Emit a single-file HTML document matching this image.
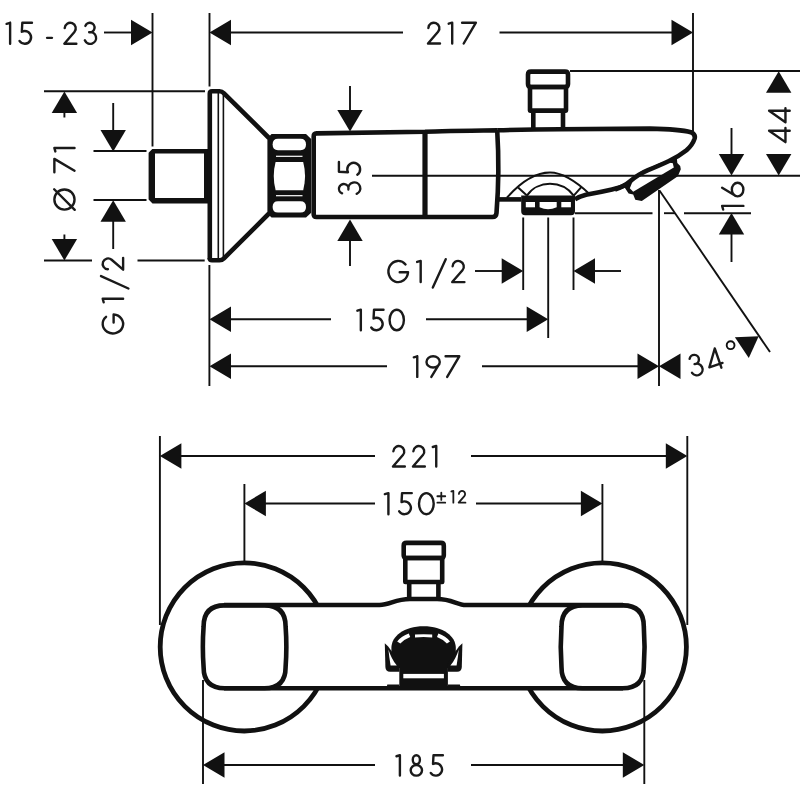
<!DOCTYPE html>
<html><head><meta charset="utf-8"><style>
html,body{margin:0;padding:0;background:#fff;width:800px;height:800px;overflow:hidden}
svg{display:block}
.ghost{fill:#000;fill-opacity:0;stroke:none!important}
.gl{fill:none;stroke:#1a1a1a;stroke-linecap:round;stroke-linejoin:round}
text{font-family:"Liberation Sans",sans-serif;fill:#1a1a1a;stroke:#fff;stroke-width:0.5px;vector-effect:non-scaling-stroke}
</style></head><body>
<svg width="800" height="800" viewBox="0 0 800 800" stroke="#111" stroke-linecap="butt" stroke-linejoin="round">
<text class="ghost" font-size="100" transform="matrix(0.31037 0 0 0.33521 3.017 44.665)">15 - 23</text>
<g class="gl" stroke-width="2.390"><g transform="translate(5.50 21.7) scale(1.0043)"><path d="M1.1,2.1 L4.6,1.1 M4.6,1.1 L4.6,21.9"/></g><g transform="translate(17.90 21.7) scale(1.0043)"><path d="M14.0,1.1 L4.4,1.1 L3.9,10.0 C4.9,9.5 5.8,9.3 6.8,9.3 A6.3,6.3 0 1 1 1.58,19.12"/></g><g transform="translate(46.00 21.7) scale(1.0043)"><path d="M1.1,16.1 L5.9,16.1"/></g><g transform="translate(63.10 21.7) scale(1.0043)"><path d="M1.60,6.41 A5.5,5.5 0 1 1 11.27,10.19 L1.20,21.90 L13.2,21.9"/></g><g transform="translate(83.40 21.7) scale(1.0043)"><path d="M1.98,4.19 A4.7,4.7 0 1 1 5.75,10.45 A5.84,5.84 0 1 1 1.42,18.48"/></g></g>
<line x1="104" y1="32.5" x2="132" y2="32.5" stroke-width="1.9"/>
<polygon points="152.50,32.50 131.00,45.20 131.00,19.80" fill="#111" stroke="none"/>
<line x1="152.5" y1="13" x2="152.5" y2="146.5" stroke-width="1.9"/>
<line x1="209.5" y1="13" x2="209.5" y2="86.5" stroke-width="1.9"/>
<polygon points="209.50,32.50 231.00,19.80 231.00,45.20" fill="#111" stroke="none"/>
<line x1="230" y1="32.5" x2="403" y2="32.5" stroke-width="1.9"/>
<text class="ghost" font-size="100" transform="matrix(0.32293 0 0 0.33286 425.185 44.800)">217</text>
<g class="gl" stroke-width="2.400"><g transform="translate(426.80 21.6) scale(1.0000)"><path d="M1.60,6.41 A5.5,5.5 0 1 1 11.27,10.19 L1.20,21.90 L13.2,21.9"/></g><g transform="translate(447.60 21.6) scale(1.0000)"><path d="M1.1,2.1 L4.6,1.1 M4.6,1.1 L4.6,21.9"/></g><g transform="translate(461.00 21.6) scale(1.0000)"><path d="M1.1,1.1 L14.9,1.1 L2.7,21.9"/></g></g>
<line x1="499.5" y1="32.5" x2="673" y2="32.5" stroke-width="1.9"/>
<polygon points="693.00,32.50 671.50,45.20 671.50,19.80" fill="#111" stroke="none"/>
<line x1="693" y1="13" x2="693" y2="131" stroke-width="1.9"/>
<line x1="44" y1="91.2" x2="205" y2="91.2" stroke-width="1.9"/>
<line x1="93.5" y1="151" x2="146.5" y2="151" stroke-width="1.9"/>
<line x1="93.5" y1="200" x2="146.5" y2="200" stroke-width="1.9"/>
<line x1="44" y1="260.5" x2="92" y2="260.5" stroke-width="1.9"/>
<line x1="137.5" y1="260.5" x2="204.7" y2="260.5" stroke-width="1.9"/>
<polygon points="64.40,91.50 77.10,113.00 51.70,113.00" fill="#111" stroke="none"/>
<line x1="64.4" y1="112" x2="64.4" y2="117.5" stroke-width="1.9"/>
<polygon points="64.40,260.50 51.70,239.00 77.10,239.00" fill="#111" stroke="none"/>
<line x1="64.4" y1="234.5" x2="64.4" y2="240" stroke-width="1.9"/>
<text class="ghost" font-size="100" transform="matrix(0 -0.31779 0.32568 0 76.349 212.871)">Ø 71</text>
<g class="gl" stroke-width="2.475" transform="matrix(0 -0.9696 0.9696 0 53.3 210.7)"><g transform="translate(0.00 0)"><path d="M1.10,11.50 A10.4,10.4 0 1 1 21.90,11.50 A10.4,10.4 0 1 1 1.10,11.50 Z M0.9,22.1 L22.1,0.9"/></g><g transform="translate(38.57 0)"><path d="M1.1,1.1 L14.9,1.1 L2.7,21.9"/></g><g transform="translate(60.03 0)"><path d="M1.1,2.1 L4.6,1.1 M4.6,1.1 L4.6,21.9"/></g></g>
<line x1="113.2" y1="103" x2="113.2" y2="131" stroke-width="1.9"/>
<polygon points="113.20,151.50 100.50,130.00 125.90,130.00" fill="#111" stroke="none"/>
<polygon points="113.20,200.30 125.90,221.80 100.50,221.80" fill="#111" stroke="none"/>
<line x1="113.2" y1="221" x2="113.2" y2="249" stroke-width="1.9"/>
<text class="ghost" font-size="100" transform="matrix(0 -0.37778 0.31081 0 124.189 336.289)">G1/2</text>
<g class="gl" stroke-width="2.442" transform="matrix(0 -0.9826 0.9826 0 101.6 334.5)"><g transform="translate(0.00 0)"><path d="M17.92,4.54 A9.65,10.4 0 1 0 20.38,12.23 L12.2,12.23"/></g><g transform="translate(31.75 0)"><path d="M1.1,2.1 L4.6,1.1 M4.6,1.1 L4.6,21.9"/></g><g transform="translate(45.90 0)"><path d="M13.6,-0.6 L0.9,27.3"/></g><g transform="translate(64.83 0)"><path d="M1.60,6.41 A5.5,5.5 0 1 1 11.27,10.19 L1.20,21.90 L13.2,21.9"/></g></g>
<path d="M152.3,149 L210,149 L210,203.5 L152.5,203.5 L148.6,199.6 L148.6,152.8 Z M155,153.6 L204,153.6 L204,198.1 L155,198.1 Z" fill="#111" fill-rule="evenodd" stroke="none"/>
<path d="M209.8,259.5 L209.8,93.6 Q209.8,91.3 212,91.3 L219.5,91.3 Q222,91.3 224,93.3 L269,138" stroke-width="4.6" fill="none" />
<path d="M209.8,258 Q209.8,260.3 212,260.3 L219.5,260.3 Q222,260.3 224,258.3 L269,213.5" stroke-width="4.6" fill="none" />
<line x1="218.3" y1="93" x2="218.3" y2="258.6" stroke-width="1.6"/>
<line x1="223.4" y1="94" x2="223.4" y2="257.6" stroke-width="1.6"/>
<path d="M271.5,134 L306,134 L311.2,139 L311.2,212.8 L306,217.6 L271.5,217.6 L267.4,213.5 L267.4,138.2 Z" fill="#111" stroke="none"/>
<path d="M278,138.8 L300.5,138.8 Q306,138.8 306,144.5 Q306,150.2 300.5,150.2 L278,150.2 Q272.6,150.2 272.6,144.5 Q272.6,138.8 278,138.8 Z" fill="#fff" stroke="none"/>
<rect x="276" y="155.7" width="26.5" height="1.2" fill="#fff" stroke="none"/>
<path d="M275.6,162 L303.2,162 Q306.9,176 303.2,190.2 L275.6,190.2 Q271.9,176 275.6,162 Z" fill="#fff" stroke="none"/>
<rect x="276" y="195.1" width="26.5" height="1.2" fill="#fff" stroke="none"/>
<path d="M278,201.2 L300.5,201.2 Q306,201.2 306,206.9 Q306,212.6 300.5,212.6 L278,212.6 Q272.6,212.6 272.6,206.9 Q272.6,201.2 278,201.2 Z" fill="#fff" stroke="none"/>
<path d="M497.2,130.2 Q440,131 425,131.7 L316.5,133.4 Q313.7,133.5 313.7,136.3 L313.7,214.2 Q313.7,217 316.5,217 L492.5,217 Q496.2,217 496.5,213 Q499.8,172 497.2,130.2" stroke-width="4.6" fill="none" />
<line x1="425" y1="132" x2="425" y2="217" stroke-width="5.2"/>
<path d="M498,199.4 L521.5,199.4" stroke-width="4.6" fill="none" />
<path d="M575,199.2 Q580,196.5 586,194.8 Q600,192.4 612,189.6 Q621,187.4 628,184" stroke-width="4.6" fill="none" />
<line x1="372" y1="175.8" x2="600" y2="175.8" stroke-width="1.9"/>
<path d="M624.5,187.2 L628.6,193.4 L633.2,194.6 L635.3,199.8 L641.8,201 L677.8,176.2 L680.8,169.2 L680.2,166 L677.3,163 L676.8,157.5 L660,163 L640,172 L628,181 Z" fill="#111" stroke="none"/>
<path d="M629.8,188.3 L633.2,191.8 L673.8,167.6 L672.8,163.2 L667.5,162.3 L650,168.6 L640,174 L633,180.5 Z" fill="#fff" stroke="none"/>
<path d="M497.2,130.2 Q530,129.5 560,129.2 L650,128.6 Q680,129.2 690.8,132.2 Q695.8,134.4 694.6,138.6 Q692.5,145 686.5,150.2 Q678.5,156.5 668.5,161.3 Q660,165.3 648,170.2 Q638,174.4 629.5,181.8 Q624,186.6 615,189.5" stroke-width="4.6" fill="none" />
<line x1="600" y1="175.8" x2="800" y2="175.8" stroke-width="1.9"/>
<line x1="350" y1="86" x2="350" y2="113" stroke-width="1.9"/>
<polygon points="350.00,131.60 337.30,110.10 362.70,110.10" fill="#111" stroke="none"/>
<polygon points="350.00,219.50 362.70,241.00 337.30,241.00" fill="#111" stroke="none"/>
<line x1="350" y1="239" x2="350" y2="266" stroke-width="1.9"/>
<text class="ghost" font-size="100" transform="matrix(0 -0.33204 0.33028 0 360.920 196.628)">35</text>
<g class="gl" stroke-width="2.354" transform="matrix(0 -1.0196 1.0196 0 337.8 195.3)"><g transform="translate(0.00 0)"><path d="M1.98,4.19 A4.7,4.7 0 1 1 5.75,10.45 A5.84,5.84 0 1 1 1.42,18.48"/></g><g transform="translate(18.68 0)"><path d="M14.0,1.1 L4.4,1.1 L3.9,10.0 C4.9,9.5 5.8,9.3 6.8,9.3 A6.3,6.3 0 1 1 1.58,19.12"/></g></g>
<path d="M533.3,129 L533.3,110.6 M563,129 L563,110.6" stroke-width="4.6" fill="none" />
<path d="M530,110.6 L566,110.6 L566,87 L530,87 Z" stroke-width="4.6" fill="none" />
<path d="M531,71.6 L565,71.6 Q568,71.6 568,74.6 L568,84 Q568,87 565,87 L531,87 Q528,87 528,84 L528,74.6 Q528,71.6 531,71.6 Z" stroke-width="4.6" fill="none" />
<line x1="570" y1="71" x2="800" y2="71" stroke-width="1.9"/>
<polygon points="778.70,71.20 791.40,92.70 766.00,92.70" fill="#111" stroke="none"/>
<text class="ghost" font-size="100" transform="matrix(0 -0.34670 0.33088 0 791.081 144.193)">44</text>
<g class="gl" stroke-width="2.421" transform="matrix(0 -0.9913 0.9913 0 768 143.5)"><g transform="translate(0.30 0)"><path d="M12.6,21.9 L12.6,1.1 L1.1,17.6 L15.3,17.6"/></g><g transform="translate(20.38 0)"><path d="M12.6,21.9 L12.6,1.1 L1.1,17.6 L15.3,17.6"/></g></g>
<polygon points="778.70,175.60 766.00,154.10 791.40,154.10" fill="#111" stroke="none"/>
<line x1="731.5" y1="128" x2="731.5" y2="155" stroke-width="1.9"/>
<polygon points="731.50,175.60 718.80,154.10 744.20,154.10" fill="#111" stroke="none"/>
<text class="ghost" font-size="100" transform="matrix(0 -0.29848 0.32746 0 743.923 214.138)">16</text>
<g class="gl" stroke-width="2.349" transform="matrix(0 -1.0217 1.0217 0 721 211)"><g transform="translate(0.39 0)"><path d="M1.1,2.1 L4.6,1.1 M4.6,1.1 L4.6,21.9"/></g><g transform="translate(13.21 0)"><g transform="rotate(180 7.8 11.5)"><path d="M1.10,6.75 A6.7,5.65 0 1 1 14.50,6.75 A6.7,5.65 0 1 1 1.10,6.75 Z M14.17,8.50 L6.0,21.9"/></g></g></g>
<polygon points="731.50,213.00 744.20,234.50 718.80,234.50" fill="#111" stroke="none"/>
<line x1="731.5" y1="234" x2="731.5" y2="262" stroke-width="1.9"/>
<line x1="575" y1="213.2" x2="652.5" y2="213.2" stroke-width="1.9"/>
<line x1="664" y1="213.2" x2="675" y2="213.2" stroke-width="1.9"/>
<line x1="684" y1="213.2" x2="751" y2="213.2" stroke-width="1.9"/>
<path d="M506.9,197.75 C519,184 533,172.5 550,172.5 C564,172.5 580,185 590,194.4" stroke-width="2.0" fill="none" />
<path d="M526.9,195.6 C532,188 541,183.75 550,183.75 C559,183.75 568,188 573.75,195.6" stroke-width="2.0" fill="none" />
<line x1="518.1" y1="187.5" x2="526.9" y2="195.6" stroke-width="2.0"/>
<line x1="581.3" y1="187.2" x2="573.75" y2="195.6" stroke-width="2.0"/>
<path d="M521.2,195.5 L575,195.5 L575,211 Q575,215.3 571,215.3 L525.2,215.3 Q521.2,215.3 521.2,211 Z" fill="#111" stroke="none"/>
<rect x="525.8" y="202" width="9.2" height="5.3" fill="#fff" stroke="none"/>
<path d="M539.6,202 L556.7,202 L556.7,207.3 Q548,211 539.6,207.3 Z" fill="#fff" stroke="none"/>
<rect x="561.3" y="202" width="9.6" height="5.3" fill="#fff" stroke="none"/>
<line x1="523.2" y1="217.5" x2="523.2" y2="290" stroke-width="1.9"/>
<line x1="548.2" y1="217.5" x2="548.2" y2="338" stroke-width="1.9"/>
<line x1="573.5" y1="217.5" x2="573.5" y2="290" stroke-width="1.9"/>
<text class="ghost" font-size="100" transform="matrix(0.38551 0 0 0.33649 383.972 284.164)">G1/2</text>
<g class="gl" stroke-width="2.359"><g transform="translate(387.30 259.8) scale(1.0174)"><path d="M17.92,4.54 A9.65,10.4 0 1 0 20.38,12.23 L12.2,12.23"/></g><g transform="translate(416.00 259.8) scale(1.0174)"><path d="M1.1,2.1 L4.6,1.1 M4.6,1.1 L4.6,21.9"/></g><g transform="translate(431.90 259.8) scale(1.0174)"><path d="M13.6,-0.6 L0.9,27.3"/></g><g transform="translate(451.00 259.8) scale(1.0174)"><path d="M1.60,6.41 A5.5,5.5 0 1 1 11.27,10.19 L1.20,21.90 L13.2,21.9"/></g></g>
<line x1="475" y1="271" x2="503" y2="271" stroke-width="1.9"/>
<polygon points="523.20,271.00 501.70,283.70 501.70,258.30" fill="#111" stroke="none"/>
<polygon points="573.50,271.00 595.00,258.30 595.00,283.70" fill="#111" stroke="none"/>
<line x1="593" y1="271" x2="621" y2="271" stroke-width="1.9"/>
<line x1="209.4" y1="265" x2="209.4" y2="386" stroke-width="1.9"/>
<polygon points="209.50,319.30 231.00,306.60 231.00,332.00" fill="#111" stroke="none"/>
<line x1="230" y1="319.3" x2="331" y2="319.3" stroke-width="1.9"/>
<text class="ghost" font-size="100" transform="matrix(0.31032 0 0 0.32113 355.017 331.079)">150</text>
<g class="gl" stroke-width="2.432"><g transform="translate(356.30 308.6) scale(0.9870)"><path d="M1.1,2.1 L4.6,1.1 M4.6,1.1 L4.6,21.9"/></g><g transform="translate(369.70 308.6) scale(0.9870)"><path d="M14.0,1.1 L4.4,1.1 L3.9,10.0 C4.9,9.5 5.8,9.3 6.8,9.3 A6.3,6.3 0 1 1 1.58,19.12"/></g><g transform="translate(388.50 308.6) scale(0.9870)"><path d="M1.10,11.50 A7.25,10.4 0 1 1 15.60,11.50 A7.25,10.4 0 1 1 1.10,11.50 Z"/></g></g>
<line x1="426" y1="319.3" x2="528" y2="319.3" stroke-width="1.9"/>
<polygon points="548.20,319.30 526.70,332.00 526.70,306.60" fill="#111" stroke="none"/>
<polygon points="209.50,366.30 231.00,353.60 231.00,379.00" fill="#111" stroke="none"/>
<line x1="230" y1="366.3" x2="387" y2="366.3" stroke-width="1.9"/>
<text class="ghost" font-size="100" transform="matrix(0.31948 0 0 0.32676 409.244 377.673)">197</text>
<g class="gl" stroke-width="2.421"><g transform="translate(412.70 355.2) scale(0.9913)"><path d="M1.1,2.1 L4.6,1.1 M4.6,1.1 L4.6,21.9"/></g><g transform="translate(425.40 355.2) scale(0.9913)"><path d="M1.10,6.75 A6.7,5.65 0 1 1 14.50,6.75 A6.7,5.65 0 1 1 1.10,6.75 Z M14.17,8.50 L6.0,21.9"/></g><g transform="translate(444.50 355.2) scale(0.9913)"><path d="M1.1,1.1 L14.9,1.1 L2.7,21.9"/></g></g>
<line x1="482" y1="366.3" x2="639" y2="366.3" stroke-width="1.9"/>
<polygon points="659.00,366.30 637.50,379.00 637.50,353.60" fill="#111" stroke="none"/>
<polygon points="659.00,366.30 680.50,353.60 680.50,379.00" fill="#111" stroke="none"/>
<line x1="659" y1="190" x2="659" y2="386" stroke-width="1.9"/>
<line x1="659.5" y1="190.5" x2="770" y2="352" stroke-width="1.9"/>
<polygon points="758.7,336.2 734.9,337.3 748.8,358.1" fill="#111" stroke="none"/>
<text class="ghost" font-size="100" transform="translate(696 364.9) rotate(-12) scale(0.29865 0.32113) translate(-27.5 34.5)">3</text>
<g class="gl" stroke-width="2.421" transform="translate(696 364.9) rotate(-12) scale(0.9913) translate(-7.00 -11.5)"><path d="M1.98,4.19 A4.7,4.7 0 1 1 5.75,10.45 A5.84,5.84 0 1 1 1.42,18.48"/></g>
<text class="ghost" font-size="100" transform="translate(716.5 357) rotate(-19) scale(0.30772 0.33088) translate(-27.5 35.0)">4</text>
<g class="gl" stroke-width="2.453" transform="translate(714.0 359.5) rotate(-19) scale(0.9783) translate(-8.20 -11.5)"><path d="M12.6,21.9 L12.6,1.1 L1.1,17.6 L15.3,17.6"/></g>
<circle cx="730.6" cy="345.2" r="3.9" fill="none" stroke-width="1.9"/>
<line x1="159.9" y1="436" x2="159.9" y2="625" stroke-width="1.9"/>
<line x1="687.3" y1="436" x2="687.3" y2="625" stroke-width="1.9"/>
<polygon points="159.90,456.00 181.40,443.30 181.40,468.70" fill="#111" stroke="none"/>
<line x1="180" y1="456" x2="375" y2="456" stroke-width="1.9"/>
<text class="ghost" font-size="100" transform="matrix(0.29841 0 0 0.33000 390.408 468.100)">221</text>
<g class="gl" stroke-width="2.432"><g transform="translate(391.80 444.9) scale(0.9870)"><path d="M1.60,6.41 A5.5,5.5 0 1 1 11.27,10.19 L1.20,21.90 L13.2,21.9"/></g><g transform="translate(411.80 444.9) scale(0.9870)"><path d="M1.60,6.41 A5.5,5.5 0 1 1 11.27,10.19 L1.20,21.90 L13.2,21.9"/></g><g transform="translate(431.70 444.9) scale(0.9870)"><path d="M1.1,2.1 L4.6,1.1 M4.6,1.1 L4.6,21.9"/></g></g>
<line x1="471" y1="456" x2="667" y2="456" stroke-width="1.9"/>
<polygon points="687.30,456.00 665.80,468.70 665.80,443.30" fill="#111" stroke="none"/>
<line x1="244.4" y1="484" x2="244.4" y2="562" stroke-width="1.9"/>
<line x1="602.4" y1="484" x2="602.4" y2="562" stroke-width="1.9"/>
<polygon points="244.40,503.50 265.90,490.80 265.90,516.20" fill="#111" stroke="none"/>
<line x1="264" y1="503.5" x2="375" y2="503.5" stroke-width="1.9"/>
<text class="ghost" font-size="100" transform="matrix(0.31419 0 0 0.33380 381.886 515.266)">150</text>
<g class="gl" stroke-width="2.369"><g transform="translate(383.75 492) scale(1.0130)"><path d="M1.1,2.1 L4.6,1.1 M4.6,1.1 L4.6,21.9"/></g><g transform="translate(397.60 492) scale(1.0130)"><path d="M14.0,1.1 L4.4,1.1 L3.9,10.0 C4.9,9.5 5.8,9.3 6.8,9.3 A6.3,6.3 0 1 1 1.58,19.12"/></g><g transform="translate(417.90 492) scale(1.0130)"><path d="M1.10,11.50 A7.25,10.4 0 1 1 15.60,11.50 A7.25,10.4 0 1 1 1.10,11.50 Z"/></g></g>
<text class="ghost" font-size="100" transform="matrix(0.18576 0 0 0.19643 436.343 503.750)">±12</text>
<g class="gl" stroke-width="3.185"><g transform="translate(436.75 490.3) scale(0.5652)"><path d="M1.1,10.5 L15.0,10.5 M8.05,4.0 L8.05,17.0 M1.1,21.9 L15.0,21.9"/></g><g transform="translate(450.75 490.3) scale(0.5652)"><path d="M1.1,2.1 L4.6,1.1 M4.6,1.1 L4.6,21.9"/></g><g transform="translate(458.00 490.3) scale(0.5652)"><path d="M1.60,6.41 A5.5,5.5 0 1 1 11.27,10.19 L1.20,21.90 L13.2,21.9"/></g></g>
<line x1="476" y1="503.5" x2="582" y2="503.5" stroke-width="1.9"/>
<polygon points="602.40,503.50 580.90,516.20 580.90,490.80" fill="#111" stroke="none"/>
<circle cx="244.3" cy="646.9" r="84.1" fill="none" stroke-width="4.8"/>
<circle cx="602.3" cy="646.9" r="84.1" fill="none" stroke-width="4.8"/>
<path d="M250,605 L602,605 L602,688.3 L250,688.3 Z" fill="#fff" stroke="none"/>
<path d="M224.6,605.4 L264.6,605.4 Q285.6,605.4 285.6,626.4 Q287.1,646.8 285.6,667.2 Q285.6,688.2 264.6,688.2 L224.6,688.2 Q203.6,688.2 203.6,667.2 Q202.1,646.8 203.6,626.4 Q203.6,605.4 224.6,605.4 Z" stroke-width="4.6" fill="#fff" />
<path d="M582.5,605.4 L622.8,605.4 Q643.8,605.4 643.8,626.4 Q645.3,646.8 643.8,667.2 Q643.8,688.2 622.8,688.2 L582.5,688.2 Q561.5,688.2 561.5,667.2 Q560.0,646.8 561.5,626.4 Q561.5,605.4 582.5,605.4 Z" stroke-width="4.6" fill="#fff" />
<path d="M224,605 L379.5,605 C390,605 395,599 410,599 L437,599 C452,599 457,605 466,605 L623,605" stroke-width="4.6" fill="none" />
<path d="M224,688.3 L623,688.3" stroke-width="4.6" fill="none" />
<path d="M409.2,600 L409.2,582 M438.4,600 L438.4,582" stroke-width="4.6" fill="none" />
<path d="M405.3,582 L442.2,582 L442.2,558 L405.3,558 Z" stroke-width="4.6" fill="none" />
<path d="M406.5,542.9 L441,542.9 Q443.8,542.9 443.8,545.7 L443.8,555.2 Q443.8,558 441,558 L406.5,558 Q403.7,558 403.7,555.2 L403.7,545.7 Q403.7,542.9 406.5,542.9 Z" stroke-width="4.6" fill="none" />
<path d="M391.4,648 C391.4,636 404,626.2 423.6,626.2 C443.2,626.2 455.8,636 455.8,648 L455.8,668 L391.4,668 Z" fill="#111" stroke="none"/>
<path d="M397.2,641.4 Q401.5,636.2 408.8,633.6 L410.2,637.1 Q404.5,639.3 400.3,643.6 Z" fill="#fff" stroke="none"/>
<path d="M 450.00 641.40 Q 445.70 636.20 438.40 633.60 L 437.00 637.10 Q 442.70 639.30 446.90 643.60 Z" fill="#fff" stroke="none"/>
<path d="M415,634.6 Q423.6,633.8 432.2,634.6 L432.2,637.4 Q423.6,636.6 415,637.4 Z" fill="#fff" stroke="none"/>
<path d="M384.8,643.2 L388.2,646.6 Q395,655 399.5,664 L399.5,671.8 L390,671.8 Q385.6,671.8 385.4,667 Z" fill="#111" stroke="none"/>
<path d="M 462.40 643.20 L 459.00 646.60 Q 452.20 655.00 447.70 664.00 L 447.70 671.80 L 457.20 671.80 Q 461.60 671.80 461.80 667.00 Z" fill="#111" stroke="none"/>
<path d="M388.4,649.4 Q391.5,659 396.8,665.6 L390.6,665.6 Q389.2,657 388.4,649.4 Z" fill="#fff" stroke="none"/>
<path d="M 458.80 649.40 Q 455.70 659.00 450.40 665.60 L 456.60 665.60 Q 458.00 657.00 458.80 649.40 Z" fill="#fff" stroke="none"/>
<path d="M399.3,667 L447.9,667 L447.9,688 L399.3,688 Z" fill="#111" stroke="none"/>
<rect x="403.3" y="673.9" width="40.6" height="4.4" fill="#fff" stroke="none"/>
<path d="M386.5,688 L387.3,684.6 L399.3,684.6 L399.3,688 Z" fill="#111" stroke="none"/>
<path d="M 460.70 688.00 L 459.90 684.60 L 447.90 684.60 L 447.90 688.00 Z" fill="#111" stroke="none"/>
<line x1="203" y1="680" x2="203" y2="784" stroke-width="1.9"/>
<line x1="644.3" y1="680" x2="644.3" y2="784" stroke-width="1.9"/>
<polygon points="203.00,765.00 224.50,752.30 224.50,777.70" fill="#111" stroke="none"/>
<line x1="223" y1="765" x2="375" y2="765" stroke-width="1.9"/>
<text class="ghost" font-size="100" transform="matrix(0.31613 0 0 0.32958 392.471 776.870)">185</text>
<g class="gl" stroke-width="2.453"><g transform="translate(395.40 754.2) scale(0.9783)"><path d="M1.1,2.1 L4.6,1.1 M4.6,1.1 L4.6,21.9"/></g><g transform="translate(409.60 754.2) scale(0.9783)"><path d="M3.25,5.70 A3.65,4.6 0 1 1 10.55,5.70 A3.65,4.6 0 1 1 3.25,5.70 Z M1.10,16.45 A5.8,5.45 0 1 1 12.70,16.45 A5.8,5.45 0 1 1 1.10,16.45 Z"/></g><g transform="translate(429.20 754.2) scale(0.9783)"><path d="M14.0,1.1 L4.4,1.1 L3.9,10.0 C4.9,9.5 5.8,9.3 6.8,9.3 A6.3,6.3 0 1 1 1.58,19.12"/></g></g>
<line x1="471" y1="765" x2="624" y2="765" stroke-width="1.9"/>
<polygon points="644.30,765.00 622.80,777.70 622.80,752.30" fill="#111" stroke="none"/>
</svg>
</body></html>
